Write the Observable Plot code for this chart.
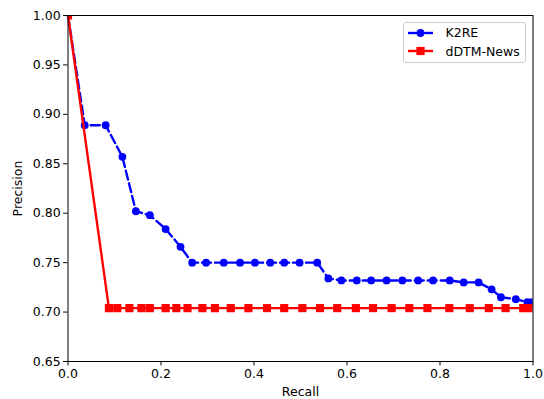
<!DOCTYPE html>
<html>
<head>
<meta charset="utf-8">
<script src="https://cdn.jsdelivr.net/npm/d3@7"></script>
<script src="https://cdn.jsdelivr.net/npm/@observablehq/plot@0.6"></script>
<style>
  html, body { margin: 0; padding: 0; background: white; }
  #wrap { position: relative; width: 544px; height: 399px; font-family: "DejaVu Sans", sans-serif; }
  #legend { position: absolute; left: 402.5px; top: 21.5px; width: 123px; height: 41px;
    border: 1px solid #cccccc; border-radius: 3px; background: rgba(255,255,255,0.8);
    font-size: 12.5px; color: black; box-sizing: border-box; }
  .row { position: absolute; left: 4px; height: 16px; display: flex; align-items: center; }
  .row span { margin-left: 13px; }
</style>
</head>
<body>
<div id="wrap"></div>
<script>
// ---- data ----
const xTicks = [0, 0.2, 0.4, 0.6, 0.8, 1.0];
const yTicks = [0.65, 0.70, 0.75, 0.80, 0.85, 0.90, 0.95, 1.00];
const seriesNames = ["K2RE", "dDTM-News"];
const seriesColors = ["blue", "red"];

const recallK2RE = [0, 0.036, 0.081, 0.117, 0.146, 0.176, 0.210, 0.242, 0.267, 0.297, 0.335, 0.370, 0.402, 0.435, 0.465, 0.498, 0.536, 0.560, 0.588, 0.621, 0.652, 0.685, 0.719, 0.753, 0.785, 0.821, 0.851, 0.883, 0.911, 0.931, 0.963, 0.988, 0.998];
const precisionK2RE = [1.0, 0.889, 0.889, 0.857, 0.802, 0.798, 0.784, 0.766, 0.75, 0.75, 0.75, 0.75, 0.75, 0.75, 0.75, 0.75, 0.75, 0.734, 0.732, 0.732, 0.732, 0.732, 0.732, 0.732, 0.732, 0.732, 0.730, 0.730, 0.723, 0.715, 0.713, 0.710, 0.710];

const recallDDTM = [0, 0.088, 0.106, 0.132, 0.158, 0.176, 0.210, 0.233, 0.257, 0.289, 0.316, 0.350, 0.388, 0.428, 0.465, 0.504, 0.542, 0.579, 0.619, 0.656, 0.696, 0.734, 0.773, 0.820, 0.864, 0.905, 0.941, 0.979, 0.996];
const precisionDDTM = [1.0, 0.704, 0.704, 0.704, 0.704, 0.704, 0.704, 0.704, 0.704, 0.704, 0.704, 0.704, 0.704, 0.704, 0.704, 0.704, 0.704, 0.704, 0.704, 0.704, 0.704, 0.704, 0.704, 0.704, 0.704, 0.704, 0.704, 0.704, 0.704];

const k2re = recallK2RE.map((r, i) => ({recall: r, precision: precisionK2RE[i]}));
const ddtm = recallDDTM.map((r, i) => ({recall: r, precision: precisionDDTM[i]}));

const chart = Plot.plot({
  width: 544, height: 399,
  marginLeft: 67.5, marginRight: 11.5, marginTop: 15, marginBottom: 38,
  x: {domain: [0, 1]},
  y: {domain: [0.65, 1.0]},
  style: {fontFamily: "DejaVu Sans, sans-serif", fontSize: "12.5px", color: "black", background: "white"},
  marks: [
    Plot.axisX({ticks: xTicks, tickFormat: d3.format(".1f"), tickSize: 4.4, tickPadding: 3, fontSize: 12.5,
      label: "Recall", labelAnchor: "center", labelArrow: "none", labelOffset: 34}),
    Plot.axisY({ticks: yTicks, tickFormat: d3.format(".2f"), tickSize: 4.4, tickPadding: 3, fontSize: 12.5,
      label: "Precision", labelAnchor: "center", labelArrow: "none", labelOffset: 55}),
    Plot.line(k2re, {x: "recall", y: "precision", stroke: seriesColors[0], strokeWidth: 2.4, strokeDasharray: "9,4", clip: true}),
    Plot.dot(k2re, {x: "recall", y: "precision", r: 3.9, fill: seriesColors[0], stroke: "none", clip: true}),
    Plot.line(ddtm, {x: "recall", y: "precision", stroke: seriesColors[1], strokeWidth: 2.4, clip: true}),
    Plot.dot(ddtm, {x: "recall", y: "precision", r: 4.6, symbol: "square", fill: seriesColors[1], stroke: "none", clip: true}),
    Plot.frame({stroke: "black", strokeWidth: 1})
  ]
});

const wrap = document.getElementById("wrap");
wrap.appendChild(chart);

// legend (matplotlib-style box inside the axes)
const legend = document.createElement("div");
legend.id = "legend";
seriesNames.forEach((name, i) => {
  const row = document.createElement("div");
  row.className = "row";
  row.style.top = (i === 0 ? 2 : 20.5) + "px";
  const ns = "http://www.w3.org/2000/svg";
  const s = document.createElementNS(ns, "svg");
  s.setAttribute("width", 25); s.setAttribute("height", 12);
  const ln = document.createElementNS(ns, "line");
  ln.setAttribute("x1", 0); ln.setAttribute("x2", 25); ln.setAttribute("y1", 6); ln.setAttribute("y2", 6);
  ln.setAttribute("stroke", seriesColors[i]); ln.setAttribute("stroke-width", 2.4);
  s.appendChild(ln);
  if (i === 0) {
    const c = document.createElementNS(ns, "circle");
    c.setAttribute("cx", 12.5); c.setAttribute("cy", 6); c.setAttribute("r", 3.9); c.setAttribute("fill", seriesColors[i]);
    s.appendChild(c);
  } else {
    const r = document.createElementNS(ns, "rect");
    r.setAttribute("x", 8.4); r.setAttribute("y", 1.9); r.setAttribute("width", 8.2); r.setAttribute("height", 8.2); r.setAttribute("fill", seriesColors[i]);
    s.appendChild(r);
  }
  row.appendChild(s);
  const t = document.createElement("span");
  t.textContent = name;
  row.appendChild(t);
  legend.appendChild(row);
});
wrap.appendChild(legend);
</script>
</body>
</html>
